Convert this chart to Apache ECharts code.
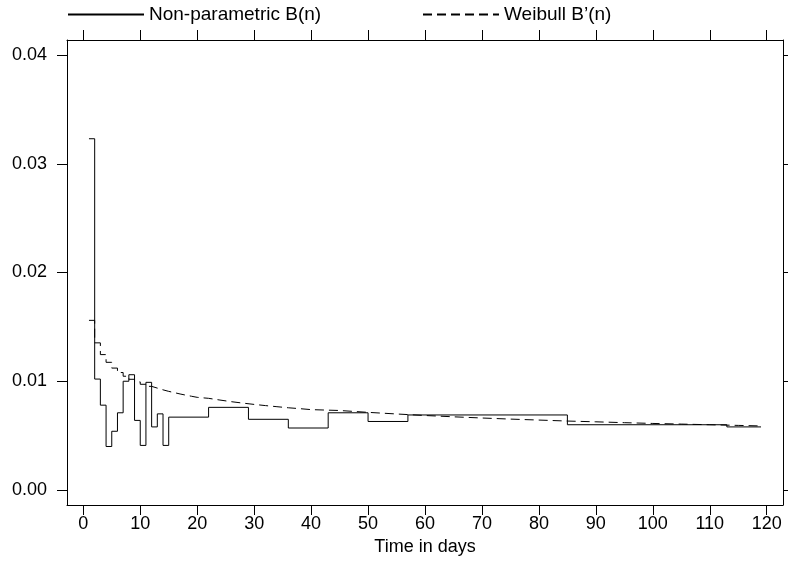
<!DOCTYPE html>
<html>
<head>
<meta charset="utf-8">
<script src="https://cdn.jsdelivr.net/npm/echarts@6/dist/echarts.min.js"></script>
<style>
html,body{margin:0;padding:0;background:#fff;}
#chart{width:788px;height:562px;}
</style>
</head>
<body>
<div id="chart"></div>
<script>
// Non-parametric B(n): step starts (day) and values
const npDays   = [1, 2, 3, 4, 5, 6, 7, 8, 9, 10, 11, 12, 13, 14, 15, 22, 29, 36, 43, 50, 57, 85, 113, 119];
const npValues = [0.0323, 0.0102, 0.0078, 0.0040, 0.0054, 0.0071, 0.0100, 0.0106, 0.0064, 0.0041, 0.0099, 0.0058, 0.0070, 0.0041, 0.0067, 0.0076, 0.0065, 0.0057, 0.0071, 0.0063, 0.0069, 0.0060, 0.0058, 0.0058];

// Weibull B'(n)
const wbDays   = [1, 2, 3, 4, 5, 6, 7, 8, 9, 10, 11, 12, 13, 14, 15, 16, 17, 18, 19, 20, 22, 24, 26, 28, 30, 32, 34, 36, 38, 40, 45, 50, 55, 60, 65, 70, 75, 80, 85, 90, 95, 100, 105, 110, 115, 119];
const wbValues = [0.01560, 0.01353, 0.01245, 0.01174, 0.01121, 0.01080, 0.01046, 0.01018, 0.00994, 0.00972, 0.00953, 0.00937, 0.00921, 0.00907, 0.00895, 0.00883, 0.00872, 0.00862, 0.00852, 0.00843, 0.00827, 0.00812, 0.00799, 0.00787, 0.00776, 0.00766, 0.00756, 0.00748, 0.00739, 0.00731, 0.00714, 0.00699, 0.00685, 0.00673, 0.00662, 0.00652, 0.00643, 0.00634, 0.00627, 0.00619, 0.00612, 0.00606, 0.00600, 0.00594, 0.00589, 0.00585];

const xTicks = [0, 10, 20, 30, 40, 50, 60, 70, 80, 90, 100, 110, 120];
const yTicks = [0, 0.01, 0.02, 0.03, 0.04];

const seriesNames = ['Non-parametric B(n)', 'Weibull B\u2019(n)'];

const FONT = "'Liberation Sans', Arial, Helvetica, sans-serif";
const INK = '#000';

const chart = echarts.init(document.getElementById('chart'), null, {renderer: 'canvas'});

const xMin = -2.86, xMax = 122.86;
const yMin = -0.00138, yMax = 0.04138;

function xAxisDef(pos, showLabels) {
  return {
    type: 'value', position: pos, min: xMin, max: xMax,
    axisLine: {show: true, onZero: false, lineStyle: {color: INK, width: 1}},
    axisTick: {show: true, inside: false, length: 10, customValues: xTicks, lineStyle: {color: INK, width: 1}},
    axisLabel: {show: showLabels, customValues: xTicks, color: INK, fontSize: 18, fontFamily: FONT, margin: 10},
    splitLine: {show: false}
  };
}
function yAxisDef(pos, showLabels) {
  return {
    type: 'value', position: pos, min: yMin, max: yMax,
    axisLine: {show: true, onZero: false, lineStyle: {color: INK, width: 1}},
    axisTick: {show: true, inside: false, length: 10, customValues: yTicks, lineStyle: {color: INK, width: 1}},
    axisLabel: {show: showLabels, customValues: yTicks, color: INK, fontSize: 18, fontFamily: FONT, margin: 20,
      formatter: v => v.toFixed(2)},
    splitLine: {show: false}
  };
}

const bottomX = xAxisDef('bottom', true);
bottomX.name = 'Time in days';
bottomX.nameLocation = 'middle';
bottomX.nameGap = 33;
bottomX.nameTextStyle = {color: INK, fontSize: 18, fontFamily: FONT};

function legendDef(name, left) {
  return {
    data: [name], left: left, top: 5, padding: 0, itemWidth: 76, itemHeight: 19, itemGap: 0,
    itemStyle: {opacity: 0, color: 'transparent', borderWidth: 0},
    lineStyle: {opacity: 1},
    textStyle: {color: INK, fontSize: 19, fontFamily: FONT, padding: [0, 0, 0, 0]}
  };
}

const option = {
  animation: false,
  backgroundColor: '#fff',
  grid: {left: 67, top: 40, width: 716, height: 465, containLabel: false},
  legend: [legendDef(seriesNames[0], 67), legendDef(seriesNames[1], 422)],
  xAxis: [bottomX, xAxisDef('top', false)],
  yAxis: [yAxisDef('left', true), yAxisDef('right', false)],
  series: [
    {
      name: seriesNames[0], type: 'line', step: 'end', symbol: 'none',
      xAxisIndex: 0, yAxisIndex: 0,
      data: npDays.map((d, i) => [d, npValues[i]]),
      lineStyle: {color: INK, width: 1, type: 'solid'},
      itemStyle: {color: INK}
    },
    {
      name: seriesNames[1], type: 'line', step: 'end', symbol: 'none',
      xAxisIndex: 0, yAxisIndex: 0,
      data: wbDays.map((d, i) => [d, wbValues[i]]),
      lineStyle: {color: INK, width: 1, type: [9, 5]},
      itemStyle: {color: INK}
    }
  ]
};
chart.setOption(option);
</script>
</body>
</html>
